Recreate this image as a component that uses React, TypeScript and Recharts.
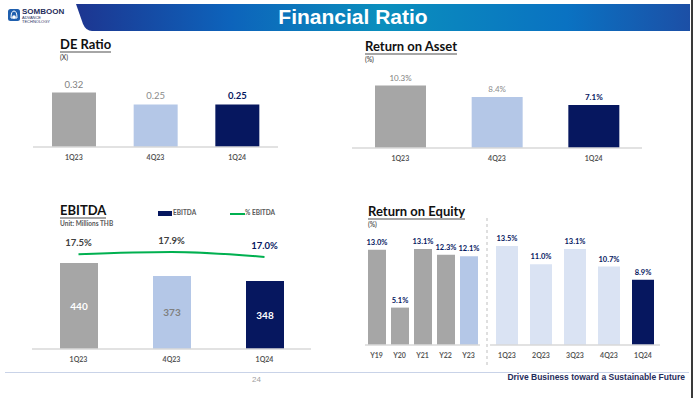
import React from "react";
import { BarChart, Bar, XAxis, YAxis, Cell, LabelList, ComposedChart, Line } from "recharts";

const deCategories = ["1Q23", "4Q23", "1Q24"];
const deValues = [0.32, 0.25, 0.25];

const roaCategories = ["1Q23", "4Q23", "1Q24"];
const roaValues = [10.3, 8.4, 7.1];

const ebitdaCategories = ["1Q23", "4Q23", "1Q24"];
const ebitdaValues = [440, 373, 348];
const ebitdaMargin = [17.5, 17.9, 17.0];

const roeYearCategories = ["Y19", "Y20", "Y21", "Y22", "Y23"];
const roeYearValues = [13.0, 5.1, 13.1, 12.3, 12.1];

const roeQuarterCategories = ["1Q23", "2Q23", "3Q23", "4Q23", "1Q24"];
const roeQuarterValues = [13.5, 11.0, 13.1, 10.7, 8.9];

const GREY = "#a6a6a6";
const LIGHT = "#b4c7e7";
const PALE = "#dae3f3";
const NAVY = "#06175f";
const GREEN = "#00b050";
const FONT = "Lato, 'Open Sans', sans-serif";
const NARROW = "'Liberation Sans Narrow', 'Liberation Sans', Arial, sans-serif";

const threeColors = [GREY, LIGHT, NAVY];
const yearColors = [GREY, GREY, GREY, GREY, LIGHT];
const quarterColors = [PALE, PALE, PALE, PALE, NAVY];

const tickStyle = { fontSize: 7, fill: "#595959", fontWeight: 700, fontFamily: FONT };

const topLabel =
  (fills: string[], weights: number[], size: number, fmt: (v: number) => string) =>
  (props: any) => {
    const { x, y, width, index, value } = props;
    return (
      <text
        x={x + width / 2}
        y={y - 5}
        textAnchor="middle"
        fill={fills[index]}
        fontSize={size}
        fontWeight={weights[index]}
        fontFamily={FONT}
      >
        {fmt(value)}
      </text>
    );
  };

const pct = (v: number) => `${v.toFixed(1)}%`;

function Title({ x, y, text, sub }: { x: number; y: number; text: string; sub: string }) {
  return (
    <div style={{ position: "absolute", left: x, top: y, fontFamily: FONT }}>
      <div
        style={{
          display: "inline-block",
          fontSize: 13,
          fontWeight: 700,
          color: "#111",
          lineHeight: "14px",
          borderBottom: "2px solid #a6a6a6",
        }}
      >
        {text}
      </div>
      <div style={{ fontSize: 6.5, fontWeight: 700, color: "#595959", marginTop: 1 }}>{sub}</div>
    </div>
  );
}

export default function App() {
  const de = deCategories.map((c, i) => ({ name: c, value: deValues[i] }));
  const roa = roaCategories.map((c, i) => ({ name: c, value: roaValues[i] }));
  const ebitda = ebitdaCategories.map((c, i) => ({ name: c, value: ebitdaValues[i], margin: ebitdaMargin[i] }));
  const roeY = roeYearCategories.map((c, i) => ({ name: c, value: roeYearValues[i] }));
  const roeQ = roeQuarterCategories.map((c, i) => ({ name: c, value: roeQuarterValues[i] }));

  return (
    <div
      style={{
        position: "absolute",
        left: 0,
        top: 0,
        width: 694,
        height: 398,
        background: "#fff",
        overflow: "hidden",
        fontFamily: FONT,
      }}
    >
      {/* header banner */}
      <svg width={694} height={36} style={{ position: "absolute", left: 0, top: 0 }}>
        <defs>
          <linearGradient id="hdr" x1="0" x2="1" y1="0" y2="0">
            <stop offset="0" stopColor="#1d3590" />
            <stop offset="0.25" stopColor="#0d63bb" />
            <stop offset="0.5" stopColor="#0a8fbd" />
            <stop offset="0.8" stopColor="#0a72c2" />
            <stop offset="1" stopColor="#1c4fa6" />
          </linearGradient>
        </defs>
        <path d="M76 4 L690 4 L690 31 L92 31 Q86 31 83 24 Z" fill="url(#hdr)" />
        <rect x={8} y={9} width={12} height={12} rx={2.5} fill="#1f5fae" />
        <path d="M11 18 Q11 11 14 11 Q17 11 17 18 Z" fill="none" stroke="#fff" strokeWidth={1} />
        <circle cx={14} cy={17} r={1.8} fill="#fff" />
        <text x={22} y={14} fontSize={8} fontWeight={700} fill="#1f2d5c" fontFamily={NARROW}>SOMBOON</text>
        <text x={22} y={18.5} fontSize={4} fill="#1f2d5c" fontFamily={NARROW}>ADVANCE</text>
        <text x={22} y={23} fontSize={4} fill="#1f2d5c" fontFamily={NARROW}>TECHNOLOGY</text>
        <text x={353} y={24} textAnchor="middle" fontSize={21} fontWeight={700} fill="#fff" fontFamily={NARROW}>
          Financial Ratio
        </text>
      </svg>
      <div style={{ position: "absolute", left: 691, top: 0, width: 2, height: 398, background: "#3a3a3a" }} />

      {/* DE Ratio */}
      <Title x={60} y={33} text="DE Ratio" sub="(X)" />
      <div style={{ position: "absolute", left: 33, top: 67 }}>
        <BarChart width={245} height={100} data={de} margin={{ top: 0, right: 0, left: 0, bottom: 0 }}>
          <XAxis dataKey="name" height={20} tickLine={false} axisLine={{ stroke: "#d9d9d9", strokeWidth: 1.5 }} tick={tickStyle} interval={0} />
          <YAxis hide domain={[0, 0.47]} />
          <Bar dataKey="value" barSize={44} isAnimationActive={false}>
            {de.map((d, i) => (
              <Cell key={d.name} fill={threeColors[i]} />
            ))}
            <LabelList
              dataKey="value"
              content={topLabel(["#7f7f7f", "#8c8c8c", NAVY], [400, 400, 700], 9.5, (v) => v.toFixed(2))}
            />
          </Bar>
        </BarChart>
      </div>

      {/* Return on Asset */}
      <Title x={365} y={35} text="Return on Asset" sub="(%)" />
      <div style={{ position: "absolute", left: 352, top: 68 }}>
        <BarChart width={290} height={100} data={roa} margin={{ top: 0, right: 0, left: 0, bottom: 0 }}>
          <XAxis dataKey="name" height={20} tickLine={false} axisLine={{ stroke: "#d9d9d9", strokeWidth: 1.5 }} tick={tickStyle} interval={0} />
          <YAxis hide domain={[0, 13.2]} />
          <Bar dataKey="value" barSize={51} isAnimationActive={false}>
            {roa.map((d, i) => (
              <Cell key={d.name} fill={threeColors[i]} />
            ))}
            <LabelList
              dataKey="value"
              content={topLabel(["#808080", "#8c8c8c", NAVY], [400, 400, 700], 8, pct)}
            />
          </Bar>
        </BarChart>
      </div>

      {/* EBITDA */}
      <Title x={60} y={199} text="EBITDA" sub="Unit: Millions THB" />
      <div style={{ position: "absolute", left: 158, top: 211, width: 14, height: 5, background: NAVY }} />
      <div style={{ position: "absolute", left: 173, top: 209, fontSize: 6.5, fontWeight: 700, color: "#595959" }}>EBITDA</div>
      <div style={{ position: "absolute", left: 230, top: 212.5, width: 15, height: 2, background: GREEN }} />
      <div style={{ position: "absolute", left: 245, top: 209, fontSize: 6.5, fontWeight: 700, color: "#595959" }}>% EBITDA</div>
      <div style={{ position: "absolute", left: 32, top: 219 }}>
        <ComposedChart width={279} height={150} data={ebitda} margin={{ top: 20, right: 0, left: 0, bottom: 0 }}>
          <XAxis dataKey="name" height={20} tickLine={false} axisLine={{ stroke: "#d9d9d9", strokeWidth: 1.5 }} tick={tickStyle} interval={0} />
          <YAxis yAxisId="bar" hide domain={[0, 563]} />
          <YAxis yAxisId="pct" hide domain={[0, 20.3]} orientation="right" />
          <Bar yAxisId="bar" dataKey="value" barSize={38} isAnimationActive={false}>
            {ebitda.map((d, i) => (
              <Cell key={d.name} fill={threeColors[i]} />
            ))}
            <LabelList
              dataKey="value"
              content={(p: any) => (
                <text
                  x={p.x + p.width / 2}
                  y={p.y + p.height / 2 + 3.5}
                  textAnchor="middle"
                  fontSize={10}
                  fontWeight={700}
                  fontFamily={FONT}
                  fill={["#ffffff", "#808080", "#ffffff"][p.index]}
                >
                  {p.value}
                </text>
              )}
            />
          </Bar>
          <Line
            yAxisId="pct"
            type="monotone"
            dataKey="margin"
            stroke={GREEN}
            strokeWidth={2}
            dot={false}
            isAnimationActive={false}
          >
            <LabelList
              dataKey="margin"
              content={(p: any) => (
                <text
                  x={p.x}
                  y={p.y - 8}
                  textAnchor="middle"
                  fontSize={9.5}
                  fontWeight={700}
                  fontFamily={FONT}
                  fill={["#404040", "#404040", NAVY][p.index]}
                >
                  {pct(p.value)}
                </text>
              )}
            />
          </Line>
        </ComposedChart>
      </div>

      {/* Return on Equity */}
      <Title x={368} y={200} text="Return on Equity" sub="(%)" />
      <div style={{ position: "absolute", left: 365, top: 215 }}>
        <BarChart width={115} height={150} data={roeY} margin={{ top: 20, right: 0, left: 0, bottom: 0 }}>
          <XAxis dataKey="name" height={20} tickLine={false} axisLine={{ stroke: "#d9d9d9", strokeWidth: 1.5 }} tick={tickStyle} interval={0} />
          <YAxis hide domain={[0, 15]} />
          <Bar dataKey="value" barSize={18} isAnimationActive={false}>
            {roeY.map((d, i) => (
              <Cell key={d.name} fill={yearColors[i]} />
            ))}
            <LabelList dataKey="value" content={topLabel(Array(5).fill(NAVY), Array(5).fill(700), 7.5, pct)} />
          </Bar>
        </BarChart>
      </div>
      <svg width={4} height={150} style={{ position: "absolute", left: 485, top: 218 }}>
        <line x1={2} x2={2} y1={0} y2={148} stroke="#bfbfbf" strokeDasharray="3 3" />
      </svg>
      <div style={{ position: "absolute", left: 490, top: 215 }}>
        <BarChart width={170} height={150} data={roeQ} margin={{ top: 20, right: 0, left: 0, bottom: 0 }}>
          <XAxis dataKey="name" height={20} tickLine={false} axisLine={{ stroke: "#d9d9d9", strokeWidth: 1.5 }} tick={tickStyle} interval={0} />
          <YAxis hide domain={[0, 15]} />
          <Bar dataKey="value" barSize={22} isAnimationActive={false}>
            {roeQ.map((d, i) => (
              <Cell key={d.name} fill={quarterColors[i]} />
            ))}
            <LabelList dataKey="value" content={topLabel(Array(5).fill(NAVY), Array(5).fill(700), 7.5, pct)} />
          </Bar>
        </BarChart>
      </div>

      {/* footer */}
      <div style={{ position: "absolute", left: 5, top: 372, width: 684, height: 1, background: "#c9d3e8" }} />
      <div style={{ position: "absolute", left: 252, top: 375, fontSize: 8, color: "#a0a0a0", fontFamily: NARROW }}>24</div>
      <div
        style={{
          position: "absolute",
          right: 9,
          top: 372,
          fontSize: 8.5,
          fontWeight: 700,
          color: "#1f2d5c",
          fontFamily: NARROW,
        }}
      >
        Drive Business toward a Sustainable Future
      </div>
    </div>
  );
}
